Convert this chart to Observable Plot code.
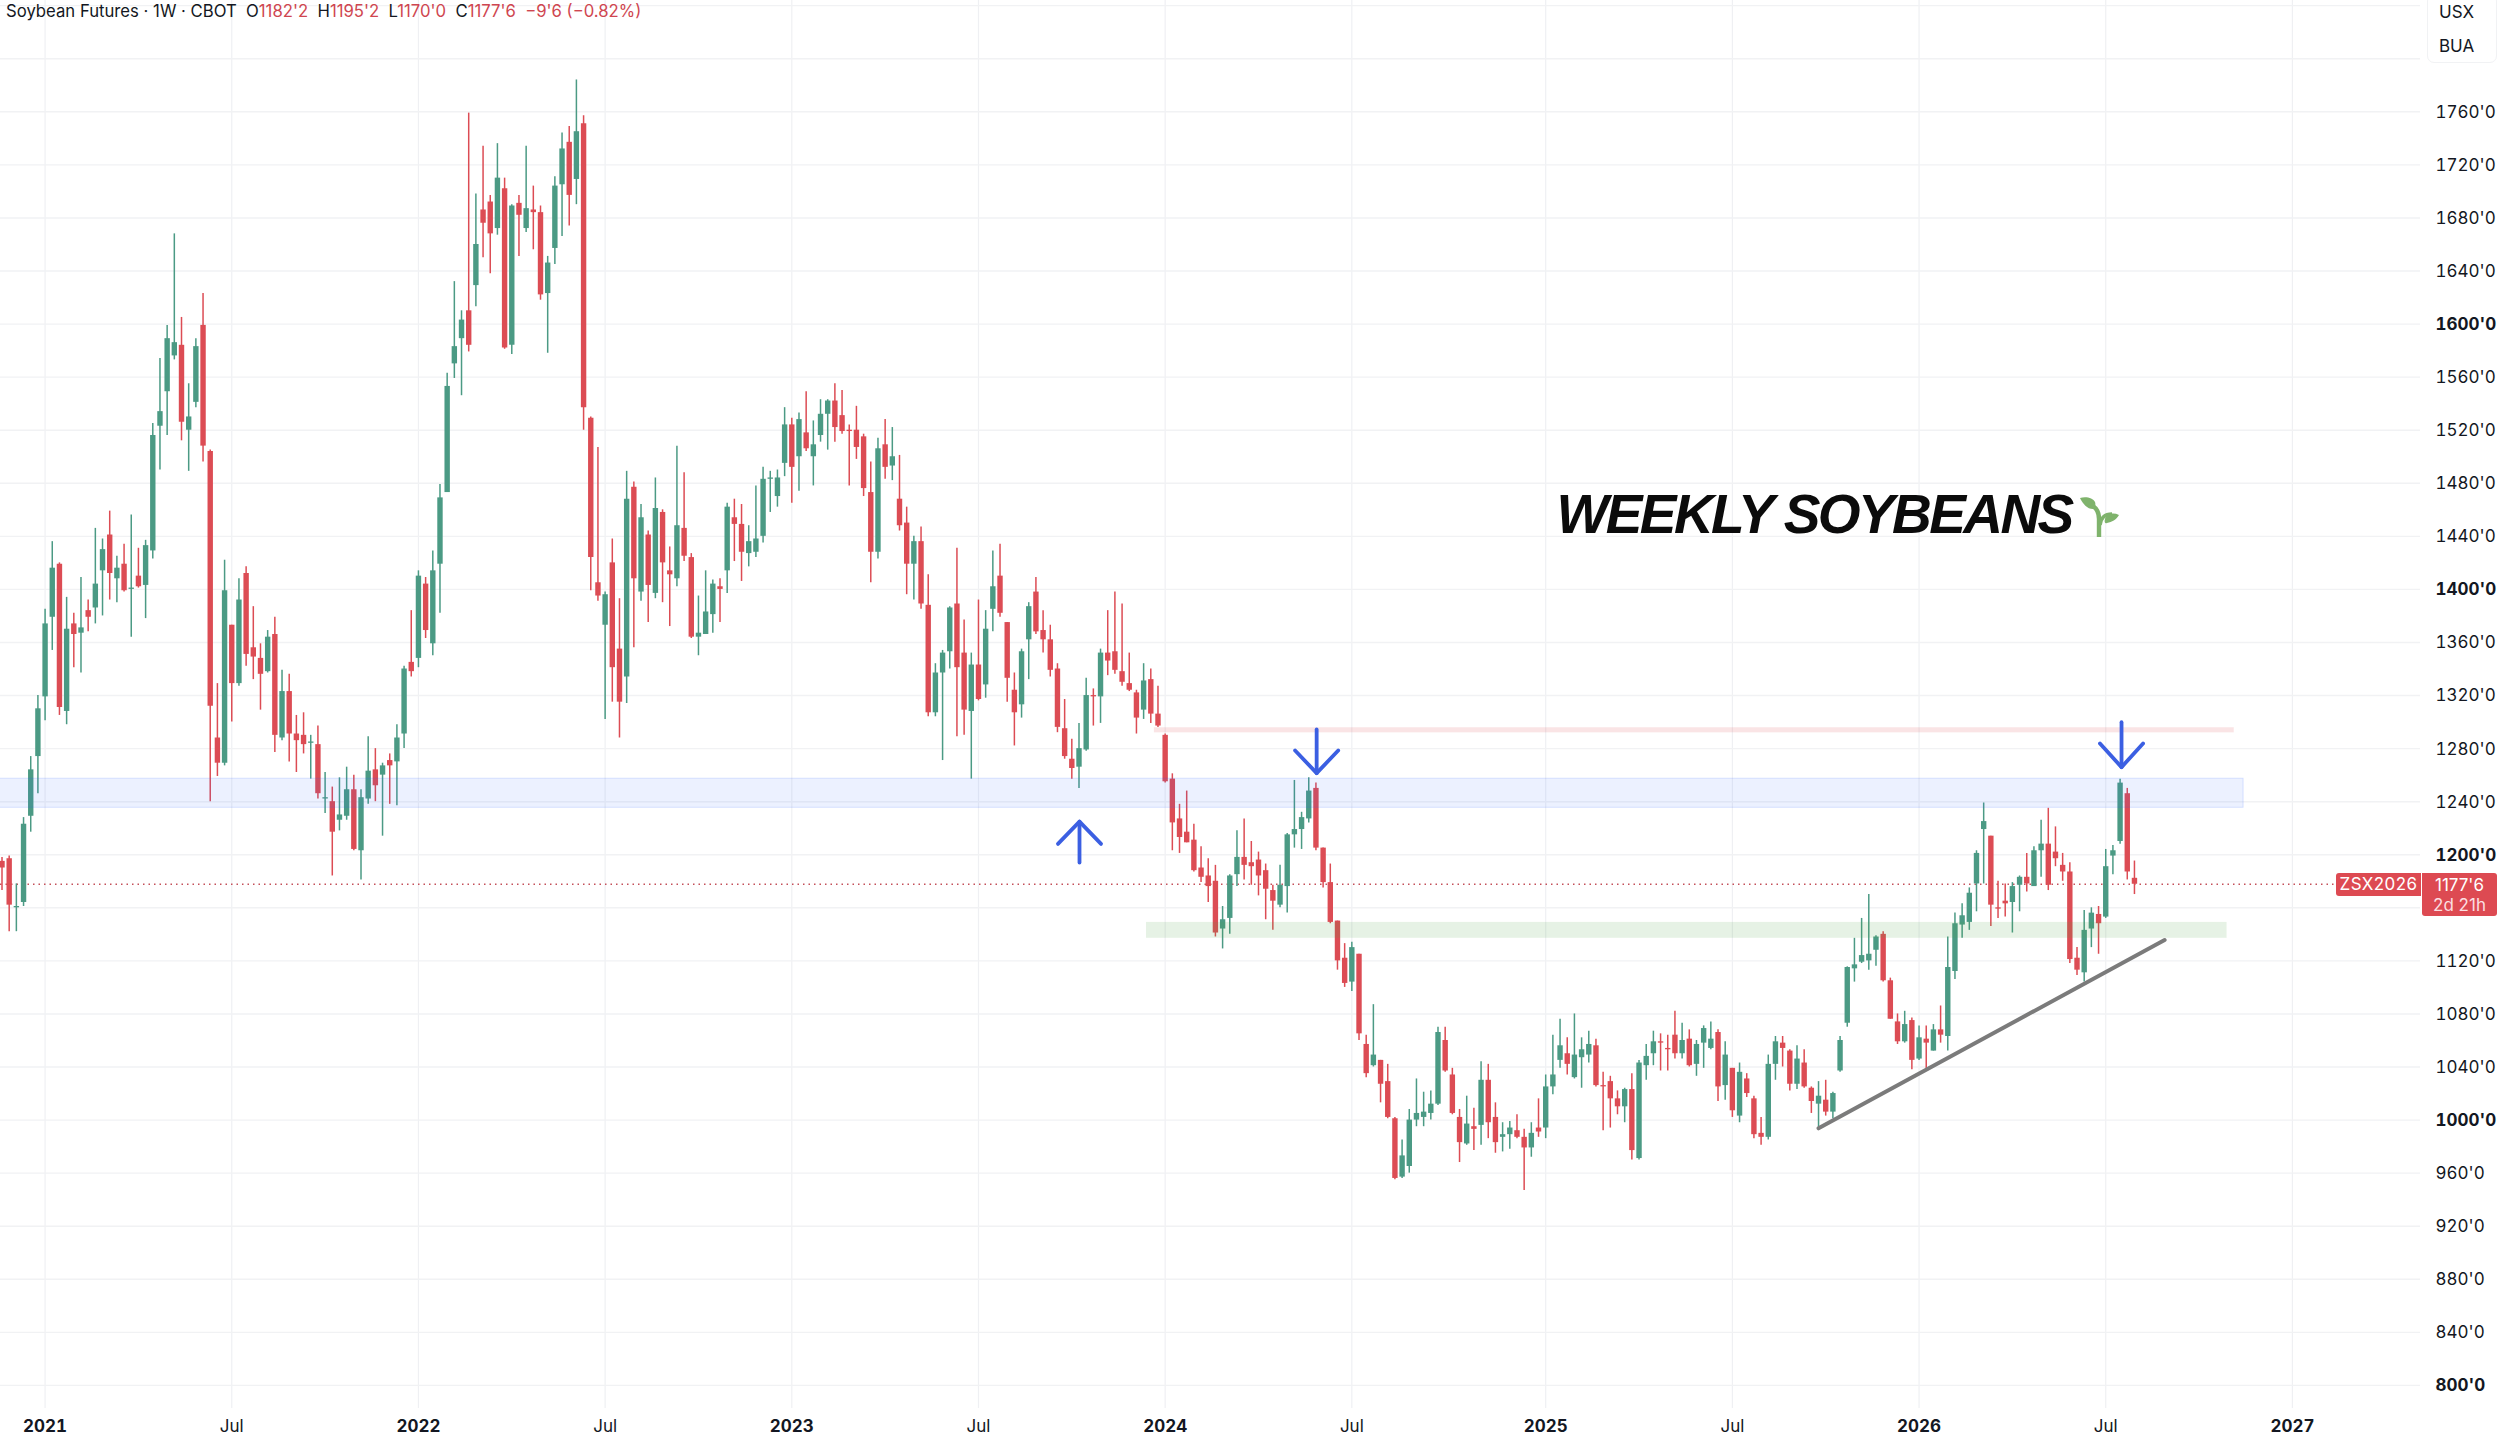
<!DOCTYPE html>
<html>
<head>
<meta charset="utf-8">
<script src="https://cdn.jsdelivr.net/npm/d3@7"></script>
<script src="https://cdn.jsdelivr.net/npm/@observablehq/plot@0.6"></script>
<style>
  html,body{margin:0;padding:0;background:#fff;overflow:hidden;}
  #wrap{position:relative;width:2500px;height:1440px;font-family:Inter,"Noto Sans",sans-serif;color:#131722;}
  #wrap svg.plot{display:block;}
  .ov{position:absolute;white-space:nowrap;}
  .up{color:#cf4650;}
</style>
</head>
<body>
<div id="wrap">
  <div id="chart"></div>
  <div class="ov" style="left:6px;top:1px;font-size:16.7px;line-height:20px;letter-spacing:0">Soybean Futures · 1W · CBOT &nbsp;O<span class="up">1182'2</span> &nbsp;H<span class="up">1195'2</span> &nbsp;L<span class="up">1170'0</span> &nbsp;C<span class="up">1177'6</span> &nbsp;<span class="up">−9'6 (−0.82%)</span></div>
  <div class="ov" style="left:2427px;top:-6px;width:70px;height:69px;background:#fff;border:1px solid #f1f2f4;border-radius:7px;box-sizing:border-box"></div>
  <div class="ov" style="left:2439px;top:2px;font-size:17px;line-height:20px">USX</div>
  <div class="ov" style="left:2439px;top:36px;font-size:17px;line-height:20px">BUA</div>
  <div class="ov" style="left:2336px;top:873px;width:85px;height:23px;background:#dd4a52;border-radius:3px 0 0 3px;color:#fff;font-size:17px;line-height:23px;text-align:center;letter-spacing:.4px">ZSX2026</div>
  <div class="ov" style="left:2422px;top:873px;width:75px;height:43px;background:#dd4a52;border-radius:0 3px 3px 3px;color:#fff;font-size:17px;line-height:20px;text-align:center;padding-top:2px;box-sizing:border-box">1177'6<br><span style="color:#fbdfe1">2d 21h</span></div>
  <svg class="ov" style="left:2078px;top:495px" width="43" height="44" viewBox="0 0 43 44">
    <path d="M21 42 L21 24 C21 17 18 13 15 11" fill="none" stroke="#7fb36c" stroke-width="4.4" stroke-linecap="butt"/>
    <path d="M22 30 C23 21 29 19 34 19" fill="none" stroke="#7fb36c" stroke-width="3.6"/>
    <path d="M2 3 C8 1 15 3 17 7 C18 10 17 14 15 14 C9 14 5 9 2 3Z" fill="#7fb36c"/>
    <path d="M41 20 C35 17 28 19 27 24 C26 27 27 29 29 28 C34 27 38 25 41 20Z" fill="#7fb36c"/>
  </svg>
</div>
<script>
// Weekly bars, in order, first bar six weeks before the first bar of 2021
const firstBarOffset = -6;
const opens = [
1195,1197,1160,1164,1229,1274,1319,1379,1419,1308,
1374,1367,1384,1386,1414,1441,1408,1419,1400,1410,
1403,1429,1523,1549,1576,1584,1520,1541,1599,1504,
1288,1269,1373,1329,1412,1356,1348,1338,1366,1288,
1323,1291,1290,1284,1283,1242,1240,1226,1229,1249,
1203,1242,1264,1260,1271,1270,1291,1345,1348,1404,
1359,1419,1473,1570,1589,1610,1629,1686,1692,1672,
1702,1584,1691,1672,1686,1684,1623,1657,1705,1737,
1709,1751,1529,1405,1373,1420,1355,1334,1477,1398,
1441,1397,1458,1414,1408,1446,1424,1364,1366,1381,
1402,1414,1454,1449,1427,1428,1440,1483,1470,1495,
1524,1500,1518,1500,1516,1532,1542,1531,1520,1520,
1515,1473,1428,1509,1493,1468,1450,1419,1436,1388,
1307,1337,1353,1389,1352,1308,1343,1328,1385,1410,
1375,1324,1313,1362,1398,1369,1362,1340,1295,1272,
1266,1279,1320,1319,1352,1353,1338,1329,1322,1309,
1332,1306,1290,1257,1227,1217,1211,1190,1184,1180,
1144,1152,1185,1198,1194,1196,1188,1173,1162,1176,
1215,1219,1227,1250,1205,1179,1150,1122,1104,1125,
1057,1041,1045,1029,1001,957,965,1000,1002,1005,
1012,1060,1034,1002,982,995,996,1030,1002,987,
989,992,987,979,994,994,1025,1045,1050,1032,
1047,1049,1056,1026,1029,1016,1010,1023,971,1041,
1050,1059,1054,1064,1050,1061,1042,1058,1054,1066,
1026,1039,1003,1031,1016,990,987,1042,1058,1052,
1027,1043,1024,1012,1015,1006,1037,1073,1114,1119,
1120,1128,1140,1105,1074,1059,1075,1046,1061,1052,
1068,1063,1112,1147,1149,1178,1219,1214,1160,1165,
1164,1177,1183,1176,1203,1208,1202,1192,1187,1122,
1111,1144,1155,1153,1199,1210,1246,1182.25];
const highs = [
1198,1199,1178,1228,1274,1320,1385,1436,1420,1394,
1382,1409,1392,1446,1438,1459,1425,1434,1456,1431,
1437,1525,1574,1599,1668,1605,1555,1589,1623,1505,
1329,1422,1373,1408,1417,1387,1359,1369,1379,1339,
1336,1305,1307,1290,1297,1262,1251,1258,1266,1260,
1249,1289,1280,1269,1276,1298,1342,1384,1414,1409,
1429,1479,1563,1632,1610,1759,1698,1734,1697,1736,
1710,1690,1697,1734,1704,1689,1651,1711,1744,1749,
1784,1757,1530,1507,1398,1438,1393,1489,1481,1464,
1444,1484,1460,1432,1508,1488,1427,1395,1414,1407,
1408,1465,1468,1464,1448,1478,1492,1489,1490,1537,
1529,1533,1549,1527,1543,1543,1555,1550,1524,1538,
1517,1496,1514,1528,1522,1501,1462,1440,1447,1411,
1344,1354,1387,1431,1377,1352,1392,1384,1429,1434,
1375,1337,1355,1390,1409,1384,1373,1344,1317,1287,
1299,1333,1325,1355,1384,1398,1389,1352,1324,1344,
1340,1327,1291,1261,1238,1248,1223,1206,1197,1192,
1161,1185,1218,1227,1210,1202,1193,1177,1192,1216,
1256,1232,1258,1254,1205,1193,1150,1133,1134,1125,
1064,1087,1045,1042,1002,985,1008,1031,1021,1022,
1070,1070,1039,1008,1018,1009,1044,1042,1013,998,
999,1004,993,998,1016,1034,1064,1076,1062,1080,
1062,1067,1061,1036,1033,1022,1024,1035,1045,1057,
1067,1065,1064,1082,1073,1068,1060,1071,1074,1068,
1059,1039,1043,1035,1018,1002,1049,1063,1063,1053,
1056,1053,1025,1029,1030,1021,1063,1115.5,1137,1152,
1170,1139,1142,1107,1080,1082,1077,1071,1071,1072,
1086,1138,1156,1163,1175,1203,1239,1214,1180,1178,
1179,1184,1201,1206,1226,1235,1221,1201,1194,1130,
1158,1160,1161,1204,1207,1257,1250,1195.25];
const lows = [
1173,1142,1142,1161,1217,1246,1301,1354,1305,1298,
1341,1337,1368,1374,1380,1392,1390,1398,1364,1401,
1378,1423,1490,1516,1573,1512,1489,1537,1496,1240,
1259,1267,1300,1327,1342,1332,1309,1337,1277,1286,
1270,1262,1276,1257,1242,1231,1184,1218,1226,1203,
1181,1238,1240,1214,1238,1237,1280,1334,1341,1363,
1350,1382,1473,1559,1546,1579,1613,1650,1638,1667,
1581,1577,1651,1669,1656,1618,1578,1645,1666,1674,
1690,1520,1399,1391,1302,1315,1288,1314,1356,1391,
1375,1393,1390,1372,1402,1421,1363,1350,1366,1367,
1375,1397,1421,1406,1417,1424,1435,1458,1462,1485,
1465,1474,1504,1478,1511,1505,1511,1517,1478,1498,
1470,1405,1423,1483,1482,1444,1396,1392,1385,1304,
1304,1271,1340,1289,1290,1257,1316,1318,1368,1379,
1315,1282,1303,1332,1366,1352,1334,1292,1272,1257,
1250,1278,1297,1299,1335,1336,1327,1323,1291,1302,
1299,1296,1254,1203,1201,1209,1187,1179,1164,1138,
1129,1140,1176,1181,1177,1169,1151,1143,1160,1156,
1205,1204,1224,1203,1175,1148,1113,1100,1097,1060,
1032,1040,1013,1001,955,956,960,995,995,1000,
1011,1036,1004,968,981,977,981,986,975,976,
978,986,947,972,987,986,1019,1039,1034,1031,
1024,1043,1025,992,994,1004,998,970,970,1030,
1041,1037,1037,1046,1046,1040,1033,1039,1053,1014,
1015,1002,998,1017,986,981,985,1030,1040,1022,
1023,1024,1005,994,1003,1001,1036,1070,1104,1118,
1113,1116,1104,1076,1057,1058,1038,1045,1037,1052,
1058,1052,1106,1137,1143,1157,1178,1146,1152,1153,
1141,1157,1172,1176,1183,1173,1191,1180,1118,1109,
1104,1130,1125,1152,1185,1208,1181,1170];
const closes = [
1190,1162,1161,1223,1264,1310,1374,1416,1311,1370,
1366,1371,1379,1404,1430,1412,1416,1399,1401,1402,
1433,1516,1534,1589,1586,1526,1530,1583,1508,1312,
1269,1399,1329,1392,1351,1349,1336,1364,1290,1323,
1291,1286,1283,1285,1246,1243,1217,1230,1249,1204,
1243,1263,1252,1267,1267,1288,1340,1338,1410,1369,
1414,1469,1553,1583,1603,1584,1660,1676,1668,1710,
1582,1689,1682,1687,1684,1622,1646,1704,1732,1697,
1745,1537,1424,1395,1396,1341,1315,1468,1408,1454,
1403,1461,1420,1411,1448,1425,1364,1367,1383,1404,
1400,1462,1449,1428,1436,1438,1483,1484,1484,1524,
1492,1528,1506,1509,1532,1542,1522,1519,1519,1507,
1476,1428,1506,1492,1500,1448,1419,1436,1389,1307,
1337,1352,1386,1341,1309,1343,1317,1370,1402,1382,
1333,1307,1353,1387,1368,1362,1339,1296,1274,1265,
1280,1320,1319,1352,1346,1339,1330,1324,1303,1331,
1306,1297,1255,1224,1213,1209,1188,1183,1176,1141,
1151,1184,1198,1192,1191,1184,1174,1165,1177,1215,
1219,1228,1248,1205,1179,1149,1120,1103,1130,1065,
1035,1049,1027,1002,956,973,1000,1005,1006,1012,
1066,1037,1005,983,997,993,1030,998,983,989,
994,987,979,990,991,1025,1034,1056,1042,1049,
1053,1057,1026,1025,1016,1010,1023,977,1043,1048,
1059,1058,1053,1050,1060,1041,1057,1069,1061,1025,
1049,1007,1036,1020,989,987,1042,1059,1054,1027,
1046,1025,1014,1018,1006,1020,1060,1115,1117,1124,
1125,1138,1105,1076,1059,1072,1045,1062,1058,1068,
1064,1115,1148,1154,1171,1201,1225,1162,1159,1163,
1176,1183,1178,1203,1208,1177,1197,1187,1121,1113,
1143,1156,1148,1191,1203,1254,1187,1177.75];

// Axis ticks
const yearTicks = ["2021-01-04","2022-01-03","2023-01-02","2024-01-01","2025-01-06","2026-01-05","2027-01-04"];
const julyTicks = ["2021-07-05","2022-07-04","2023-07-03","2024-07-01","2025-07-07","2026-07-06"];
const priceGrid = [800,840,880,920,960,1000,1040,1080,1120,1160,1200,1240,1280,1320,1360,1400,1440,1480,1520,1560,1600,1640,1680,1720,1760,1800,1840];
const boldPrices = [800,1000,1200,1400,1600];
const plainPrices = [840,880,920,960,1040,1080,1120,1240,1280,1320,1360,1440,1480,1520,1560,1640,1680,1720,1760];

// Annotations, in week index and price
const lastClose = 1177.75;
const blueZone = {w1:-8, w2:306.2, top:1257.3, bottom:1235.4};
const redZone  = {w1:154.5, w2:304.9, top:1295.7, bottom:1291.9};
const greenZone= {w1:153.4, w2:303.9, top:1149, bottom:1137};
const trendWeeks = [247, 295.2];
const trendPrices = [993.8, 1135.7];
const arrowWeeks = [144.07, 177.1, 289.2];
const arrowTails = [1194.1, 1294.4, 1299.9];
const arrowTips  = [1225, 1261.5, 1266];
const arrowWings = [1208.2, 1278.6, 1283.9];
const headSpan = 3;

const dayMs = 864e5;
const weekDate = k => new Date(Date.UTC(2021,0,4) + k*7*dayMs);
const utc = s => new Date(s + "T00:00:00Z");

const bars = opens.map((o,i)=>({date:weekDate(i+firstBarOffset),o,h:highs[i],l:lows[i],c:closes[i],up:closes[i]>=o}));
const GREEN="#4b9a84", RED="#dc4c54";
const dir = d => d.up?GREEN:RED;

const arrowSegs = arrowWeeks.flatMap((w,i)=>[
  {g:"s"+i,x:weekDate(w),y:arrowTails[i]},
  {g:"s"+i,x:weekDate(w),y:arrowTips[i]},
  {g:"h"+i,x:weekDate(w-headSpan),y:arrowWings[i]},
  {g:"h"+i,x:weekDate(w),y:arrowTips[i]},
  {g:"h"+i,x:weekDate(w+headSpan),y:arrowWings[i]}
]);
const zone = (z,fill,stroke)=>Plot.rect([z],{x1:d=>weekDate(d.w1),x2:d=>weekDate(d.w2),y1:"bottom",y2:"top",fill,stroke:stroke||"none",strokeWidth:1});

const axisFont = {fontSize:17, fontFamily:"Inter, 'Noto Sans', sans-serif"};
const chart = Plot.plot({
  width:2500,height:1440,
  marginTop:0,marginLeft:0,marginRight:80,marginBottom:32,
  style:{background:"#fff",color:"#131722",overflow:"hidden"},
  x:{type:"utc",domain:[weekDate(-6.21),weekDate(330.84)],axis:null},
  y:{type:"linear",domain:[782.6,1843.9],axis:null},
  marks:[
    Plot.ruleX(yearTicks.concat(julyTicks).map(utc),{stroke:"#eff0f3",strokeWidth:1.2}),
    Plot.ruleY(priceGrid,{stroke:"#f1f2f4",strokeWidth:1.4}),
    Plot.ruleY([lastClose],{x1:weekDate(-6.21),x2:weekDate(319.0),stroke:"#c4505a",strokeWidth:1.4,strokeDasharray:"1.5 4"}),
    Plot.ruleX(bars,{x:"date",y1:"l",y2:"h",stroke:dir,strokeWidth:1.5}),
    Plot.ruleX(bars,{x:"date",y1:"o",y2:"c",stroke:dir,strokeWidth:5.4}),
    zone(blueZone,"rgba(41,98,255,0.09)","rgba(41,98,255,0.16)"),
    zone(redZone,"rgba(224,74,83,0.15)"),
    zone(greenZone,"rgba(76,160,70,0.14)"),
    Plot.line(trendWeeks.map((w,i)=>({x:weekDate(w),y:trendPrices[i]})),{x:"x",y:"y",stroke:"#7b7b7b",strokeWidth:4,strokeLinecap:"round"}),
    Plot.line(arrowSegs,{x:"x",y:"y",z:"g",stroke:"#3b5fe2",strokeWidth:3.8,strokeLinecap:"round",strokeLinejoin:"round"}),
    Plot.text(["WEEKLY SOYBEANS"],{x:weekDate(210.5),y:1455.7,text:d=>d,textAnchor:"start",lineAnchor:"middle",fontSize:55,fontWeight:700,fontStyle:"italic",fontFamily:"'Liberation Sans', Arial, sans-serif",fill:"#0b0b0b"}),
    Plot.axisY({anchor:"right",ticks:plainPrices,tickSize:0,tickPadding:15,textAnchor:"start",tickFormat:d=>d+"'0",label:null,dy:0.5,...axisFont}),
    Plot.axisY({anchor:"right",ticks:boldPrices,tickSize:0,tickPadding:15,textAnchor:"start",tickFormat:d=>d+"'0",label:null,dy:0.5,fontWeight:700,...axisFont}),
    Plot.axisX({anchor:"bottom",ticks:julyTicks.map(utc),tickSize:0,tickPadding:11,tickFormat:()=>"Jul",label:null,...axisFont}),
    Plot.axisX({anchor:"bottom",ticks:yearTicks.map(utc),tickSize:0,tickPadding:11,tickFormat:d=>String(d.getUTCFullYear()),label:null,fontWeight:700,...axisFont})
  ]
});
chart.classList.add("plot");
d3.select(chart).selectAll("text").filter(function(){return this.textContent==="WEEKLY SOYBEANS";}).style("letter-spacing","-2.6px");
document.getElementById("chart").appendChild(chart);
</script>
</body>
</html>
